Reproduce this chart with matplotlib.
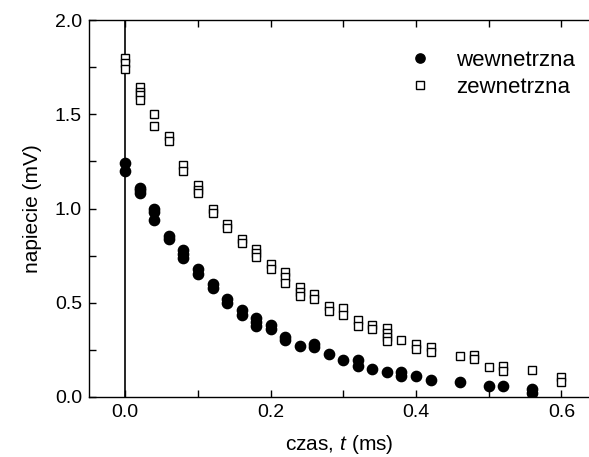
import numpy as np
import matplotlib
matplotlib.use("Agg")
import matplotlib.pyplot as plt
from matplotlib.ticker import MultipleLocator, FormatStrFormatter

plt.rcParams["font.family"] = ["Liberation Sans", "DejaVu Sans"]
plt.rcParams["mathtext.fontset"] = "custom"
plt.rcParams["mathtext.rm"] = "Liberation Sans"
plt.rcParams["mathtext.it"] = "Liberation Sans:italic"

# inner electrode (filled circles)
t_in = [0.00, 0.00,
        0.02, 0.02, 0.02,
        0.04, 0.04, 0.04,
        0.06, 0.06,
        0.08, 0.08, 0.08,
        0.10, 0.10,
        0.12, 0.12,
        0.14, 0.14,
        0.16, 0.16,
        0.18, 0.18, 0.18,
        0.20, 0.20,
        0.22, 0.22,
        0.24,
        0.26, 0.26,
        0.28,
        0.30,
        0.32, 0.32,
        0.34,
        0.36,
        0.38, 0.38,
        0.40,
        0.42,
        0.46,
        0.50,
        0.52,
        0.56, 0.56]
u_in = [1.24, 1.20,
        1.11, 1.10, 1.08,
        1.00, 0.98, 0.94,
        0.855, 0.84,
        0.78, 0.76, 0.74,
        0.68, 0.655,
        0.60, 0.58,
        0.52, 0.50,
        0.46, 0.435,
        0.42, 0.40, 0.375,
        0.38, 0.36,
        0.32, 0.30,
        0.27,
        0.28, 0.265,
        0.23,
        0.195,
        0.195, 0.165,
        0.15,
        0.13,
        0.13, 0.11,
        0.11,
        0.092,
        0.08,
        0.058,
        0.06,
        0.041, 0.02]

# outer electrode (open squares)
t_out = [0.00, 0.00, 0.00,
         0.02, 0.02, 0.02, 0.02,
         0.04, 0.04,
         0.06, 0.06,
         0.08, 0.08,
         0.10, 0.10, 0.10,
         0.12, 0.12,
         0.14, 0.14,
         0.16, 0.16,
         0.18, 0.18, 0.18,
         0.20, 0.20,
         0.22, 0.22, 0.22,
         0.24, 0.24, 0.24,
         0.26, 0.26,
         0.28, 0.28,
         0.30, 0.30,
         0.32, 0.32,
         0.34, 0.34,
         0.36, 0.36, 0.36, 0.36,
         0.38,
         0.40, 0.40,
         0.42, 0.42,
         0.46,
         0.48, 0.48,
         0.50,
         0.52, 0.52,
         0.56,
         0.60, 0.60]
u_out = [1.80, 1.77, 1.74,
         1.645, 1.62, 1.60, 1.575,
         1.50, 1.44,
         1.385, 1.36,
         1.23, 1.20,
         1.125, 1.10, 1.08,
         1.00, 0.978,
         0.92, 0.898,
         0.84, 0.818,
         0.785, 0.762, 0.741,
         0.704, 0.677,
         0.665, 0.635, 0.603,
         0.582, 0.559, 0.536,
         0.546, 0.52,
         0.483, 0.456,
         0.47, 0.435,
         0.408, 0.378,
         0.384, 0.359,
         0.366, 0.341, 0.317, 0.295,
         0.30,
         0.283, 0.257,
         0.263, 0.237,
         0.219,
         0.222, 0.20,
         0.159,
         0.164, 0.14,
         0.141,
         0.106, 0.081]

fig = plt.figure(figsize=(5.89, 4.57), dpi=100)
ax = fig.add_axes([0.151, 0.1313, 0.849, 0.8249])

ax.axvline(0, color="black", lw=1.2, zorder=1)
ax.plot(t_in, u_in, "o", color="black", ms=7.4, ls="none", label="wewnetrzna", zorder=3)
ax.plot(t_out, u_out, "s", mfc="white", mec="black", mew=1.0, ms=5.8,
        ls="none", label="zewnetrzna", zorder=3)

ax.set_xlim(-0.05, 0.638)
ax.set_ylim(0, 2.0)
ax.xaxis.set_major_locator(MultipleLocator(0.2))
ax.xaxis.set_minor_locator(MultipleLocator(0.1))
ax.yaxis.set_major_locator(MultipleLocator(0.5))
ax.yaxis.set_minor_locator(MultipleLocator(0.25))
ax.xaxis.set_major_formatter(FormatStrFormatter("%.1f"))
ax.yaxis.set_major_formatter(FormatStrFormatter("%.1f"))
ax.tick_params(which="both", direction="in", top=True, right=False, labelsize=14,
               width=1.0, color="black", length=5)
ax.tick_params(which="major", pad=5)
ax.spines["right"].set_visible(False)
for s in ("left", "bottom", "top"):
    ax.spines[s].set_linewidth(1.0)

ax.set_xlabel("czas, $t$ (ms)", fontsize=15, labelpad=9)
ax.set_ylabel("napiecie (mV)", fontsize=15, labelpad=9)

# legend without frame, markers at left of the labels
ax.legend(loc="upper right", bbox_to_anchor=(0.976, 0.89), bbox_transform=fig.transFigure,
          frameon=False, fontsize=16, handletextpad=1.1, labelspacing=0.25,
          handlelength=1.0, borderaxespad=0, borderpad=0, markerscale=0.9)

fig.savefig("out.png", dpi=100)
